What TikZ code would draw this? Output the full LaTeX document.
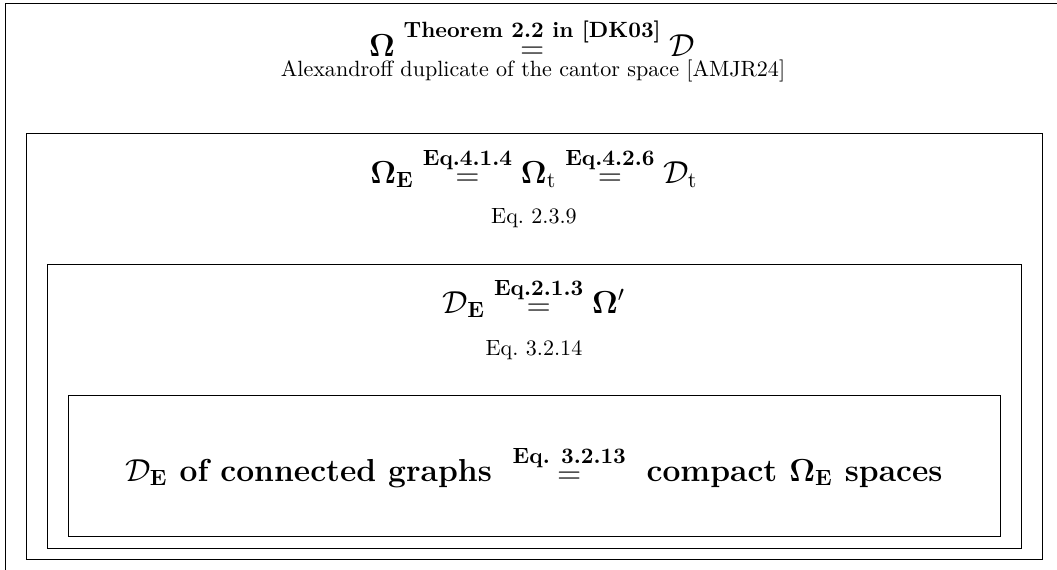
\documentclass[tikz,border=0pt]{standalone}
\usepackage{amsmath}

% relation sign with its reference written on top
\newcommand{\eqby}[1]{\mathrel{\overset{\textbf{#1}\rule[-2pt]{0pt}{2pt}}{\lower1pt\hbox{$=$}}}}

\tikzset{
  frame/.style={draw=black, line width=0.45pt},
  formula/.style={anchor=base, font=\Large, inner sep=0pt},
  remark/.style={anchor=base, inner sep=0pt}
}

\begin{document}
\begin{tikzpicture}[x=0.453pt, y=-0.453pt]
  % Page, the outer frame runs past it on the right and at the bottom
  \useasboundingbox (0, 0) rectangle (1057, 569);
  \clip (0, 0) rectangle (1057, 569);

  % Nested frames, outermost first
  % \l/\t/\r/\b are left, top, right, bottom
  \foreach \l/\t/\r/\b in {
    5/3.5/1063.5/570.5,
    26/133.7/1042.7/559,
    47.5/264/1021.7/548,
    68.7/395/1000.7/536.7
  } {
    \draw [frame] (\l, \t) rectangle (\r, \b);
  }

  % Outer frame
  \node [formula] (omega) at (532, 56)
    {$\mathbf{\Omega} \eqby{Theorem 2.2 in [DK03]} \mathcal{D}$};
  \node [remark] (alex) at (533, 76)
    {Alexandroff duplicate of the cantor space [AMJR24]};

  % Second frame
  \node [formula] (omegat) at (534, 183)
    {$\mathbf{\Omega}_{\mathbf{E}} \eqby{Eq.4.1.4} \mathbf{\Omega}_{\mathrm{t}}
      \eqby{Eq.4.2.6} \mathcal{D}_{\mathrm{t}}$};
  \node [remark] (eqsecond) at (534, 223) {Eq.~2.3.9};

  % Third frame
  \node [formula] (omegaprime) at (534, 313)
    {$\mathcal{D}_{\mathbf{E}} \eqby{Eq.2.1.3} \mathbf{\Omega}'$};
  \node [remark] (eqthird) at (534, 355) {Eq.~3.2.14};

  % Innermost frame
  \node [formula] (graphs) at (534, 481)
    {\bfseries $\mathcal{D}_{\mathbf{E}}$ of connected graphs
      $\;\eqby{Eq. 3.2.13}\;$ compact $\mathbf{\Omega}_{\mathbf{E}}$ spaces};
\end{tikzpicture}
\end{document}
